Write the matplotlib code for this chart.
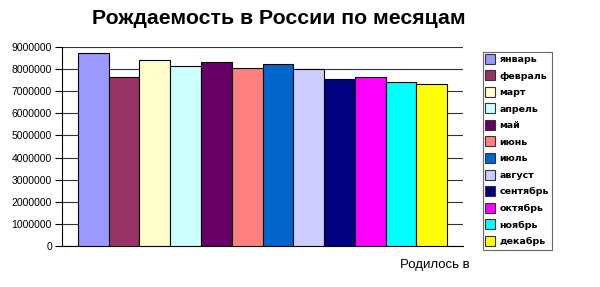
import matplotlib.pyplot as plt
from matplotlib.lines import Line2D

# -- Data:
months = ['январь', 'февраль', 'март', 'апрель', 'май', 'июнь',
          'июль', 'август', 'сентябрь', 'октябрь', 'ноябрь', 'декабрь']
births = [8730000, 7640000, 8420000, 8150000, 8320000, 8050000,
          8240000, 8000000, 7560000, 7640000, 7400000, 7320000]
colors = ['#9999FF', '#993366', '#FFFFCC', '#CCFFFF', '#660066', '#FF8080',
          '#0066CC', '#CCCCFF', '#000080', '#FF00FF', '#00FFFF', '#FFFF00']
yticks = list(range(0, 9000001, 1000000))

plt.rcParams['font.family'] = ['Liberation Sans', 'DejaVu Sans']

fig = plt.figure(figsize=(6, 2.87), dpi=100)
ax = fig.add_axes([0.103, 0.143, 0.669, 0.693])

# -- Bars:
for i, (v, c) in enumerate(zip(births, colors)):
    ax.bar(i, v, width=1.0, align='edge', color=c, edgecolor='black', linewidth=0.8, zorder=3)

ax.set_xlim(-0.52, 12.52)
ax.set_ylim(0, 9000000)
ax.set_yticks(yticks)
ax.set_yticklabels([str(t) for t in yticks], fontsize=7.5)
ax.set_xticks([])
ax.yaxis.grid(True, color='#333333', linewidth=0.8, zorder=0)
ax.tick_params(axis='y', length=5, width=0.8, pad=2)

for s in ['top', 'right']:
    ax.spines[s].set_visible(False)
ax.spines['left'].set_linewidth(0.8)
ax.spines['bottom'].set_linewidth(0.8)

# -- Titles:
fig.text(0.465, 0.935, 'Рождаемость в России по месяцам', fontsize=15.3,
         fontweight='bold', ha='center', va='center')
fig.text(0.725, 0.075, 'Родилось в', fontsize=9.5, ha='center', va='center')

# -- Legend:
handles = [Line2D([], [], marker='s', linestyle='none', markersize=7.5,
                  markerfacecolor=c, markeredgecolor='#333333', markeredgewidth=0.8)
           for c in colors]
leg = fig.legend(handles, months, loc='upper left', bbox_to_anchor=(0.805, 0.82),
                 frameon=True, fancybox=False, prop={'family': 'DejaVu Sans', 'weight': 'bold', 'size': 6.8},
                 handlelength=0.8, handletextpad=0.6, labelspacing=0.8, borderpad=0.35,
                 borderaxespad=0)
leg.get_frame().set_edgecolor('#444444')
leg.get_frame().set_linewidth(0.8)

fig.savefig('out.png', dpi=100)
